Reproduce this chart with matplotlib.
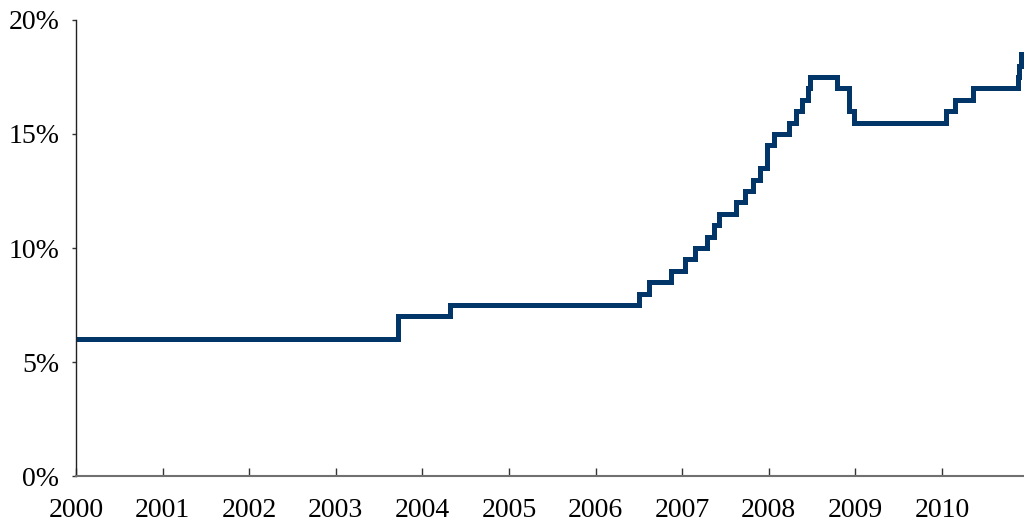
import matplotlib
matplotlib.use('Agg')
import matplotlib.pyplot as plt
import matplotlib.dates as mdates
import pandas as pd

# reserve requirement ratio changes (effective date, ratio %)
change_dates = ['2000-01-01', '2003-09-21', '2004-04-25', '2006-07-05', '2006-08-15',
                '2006-11-15', '2007-01-15', '2007-02-25', '2007-04-16', '2007-05-15',
                '2007-06-05', '2007-08-15', '2007-09-25', '2007-10-25', '2007-11-26',
                '2007-12-25', '2008-01-25', '2008-03-25', '2008-04-25', '2008-05-20',
                '2008-06-15', '2008-06-25', '2008-10-15', '2008-12-05', '2008-12-25',
                '2010-01-18', '2010-02-25', '2010-05-10', '2010-11-16', '2010-11-22',
                '2010-11-29']
ratios = [6.0, 7.0, 7.5, 8.0, 8.5,
          9.0, 9.5, 10.0, 10.5, 11.0,
          11.5, 12.0, 12.5, 13.0, 13.5,
          14.5, 15.0, 15.5, 16.0, 16.5,
          17.0, 17.5, 17.0, 16.0, 15.5,
          16.0, 16.5, 17.0, 17.5, 18.0,
          18.5]
end_date = '2010-12-31'
year_ticks = [str(y) for y in range(2000, 2011)]
y_ticks = [0, 5, 10, 15, 20]

dates = pd.to_datetime(change_dates + [end_date])
vals = ratios + [ratios[-1]]

plt.rcParams['font.family'] = ['Liberation Serif', 'DejaVu Serif']

fig = plt.figure(figsize=(10.24, 5.26), dpi=100)
ax = fig.add_axes([0.0742, 0.095, 0.9258, 0.867])

ax.step(dates, vals, where='post', color='#033668', lw=3.6, solid_joinstyle='miter')

ax.set_xlim(pd.Timestamp('2000-01-01'), pd.Timestamp('2010-12-13'))
ax.set_ylim(0, 20)
ax.set_xticks(pd.to_datetime([y + '-01-01' for y in year_ticks]))
ax.xaxis.set_major_formatter(mdates.DateFormatter('%Y'))
ax.set_yticks(y_ticks)
ax.set_yticklabels([str(v) + '%' for v in y_ticks])

for s in ['top', 'right']:
    ax.spines[s].set_visible(False)
ax.spines['bottom'].set_color('#707070')
ax.spines['bottom'].set_linewidth(1.5)
ax.spines['left'].set_color('#222222')
ax.spines['left'].set_linewidth(1.0)

ax.tick_params(axis='x', direction='in', length=6, width=1, color='#333333',
               pad=16, labelsize=20)
ax.tick_params(axis='y', direction='out', length=3, width=1, color='#333333',
               pad=9, labelsize=20)

fig.savefig('out.png', dpi=100)
